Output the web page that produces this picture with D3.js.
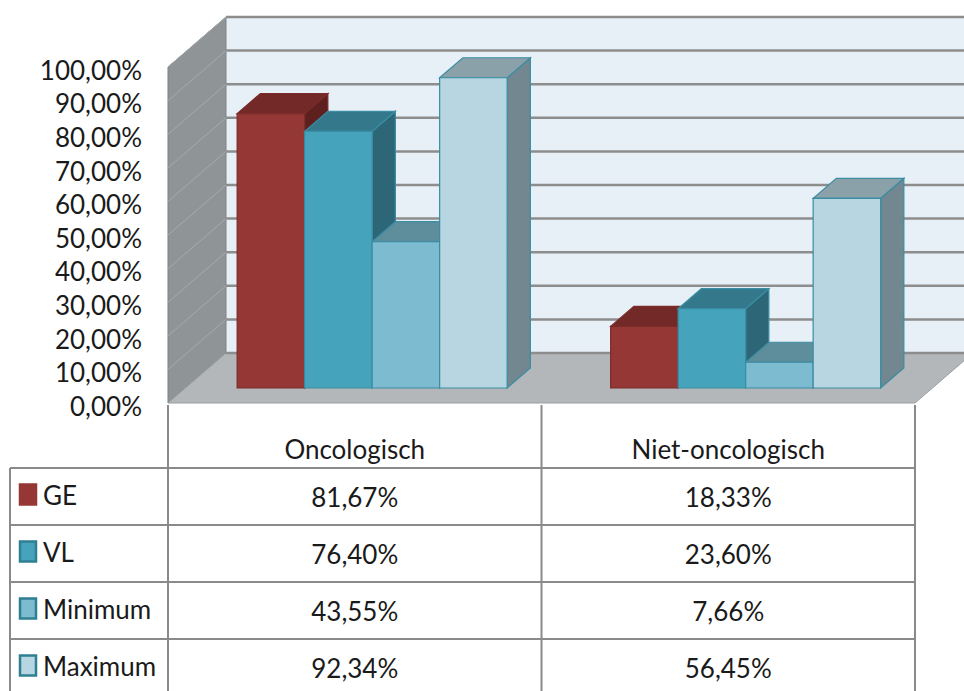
<!DOCTYPE html>
<html>
<head>
<meta charset="utf-8">
<script src="https://cdn.jsdelivr.net/npm/d3@7"></script>
<style>
  body { margin: 0; background: #fff; }
  svg { display: block; font-family: Lato, "Open Sans", sans-serif; }
</style>
</head>
<body>
<svg id="chart" width="964" height="691"></svg>
<script>
// data
const categories = ["Oncologisch", "Niet-oncologisch"];
const series = ["GE", "VL", "Minimum", "Maximum"];
const valuesGE = [0.8167, 0.1833];
const valuesVL = [0.7640, 0.2360];
const valuesMin = [0.4355, 0.0766];
const valuesMax = [0.9234, 0.5645];
const tickValues = [0, 0.1, 0.2, 0.3, 0.4, 0.5, 0.6, 0.7, 0.8, 0.9, 1.0];

const seriesValues = [valuesGE, valuesVL, valuesMin, valuesMax];

const colors = {
    GE: { front: "#953735", top: "#722927", side: "#5e201f", stroke: "#7a2b2a", key: "#953735", keyStroke: "#953735" },
    VL: { front: "#46a3bc", top: "#34788b", side: "#2d6676", stroke: "#3a8da2", key: "#46a3bc", keyStroke: "#2f7f93" },
    Minimum: { front: "#7dbbd0", top: "#5e8e9c", side: "#4f7885", stroke: "#3a8da2", key: "#7dbbd0", keyStroke: "#2f7f93" },
    Maximum: { front: "#b8d6e1", top: "#8ba1aa", side: "#728790", stroke: "#3a8da2", key: "#b8d6e1", keyStroke: "#2f7f93" }
};

const nl = d3.formatLocale({ decimal: ",", thousands: ".", grouping: [3], currency: ["", " €"] });
const fmt = nl.format(".2%");

const svg = d3.select("#chart");

// 3d layout
const plotLeft = 168, plotRight = 915;
const depthX = 58, depthY = 50;

const y = d3.scaleLinear().domain([0, 1]).range([403, 67]);
const x = d3.scaleBand().domain(categories).range([plotLeft, plotRight]);
const xs = d3.scaleBand().domain(series).range([-135, 135]);

function p(px, v, d) {
    return [px + d * depthX, y(v) - d * depthY];
}
function poly(pts) {
    return pts.map(q => q.join(",")).join(" ");
}

// walls
svg.append("polygon")
    .attr("points", poly([p(plotLeft, 0, 1), p(plotLeft, 1, 1), p(plotRight + 60, 1, 1), p(plotRight + 60, 0, 1)]))
    .attr("fill", "#e8f0f7");

svg.append("polygon")
    .attr("points", poly([p(plotLeft, 0, 0), p(plotLeft, 1, 0), p(plotLeft, 1, 1), p(plotLeft, 0, 1)]))
    .attr("fill", "#8f9597")
    .attr("stroke", "#7d8385")
    .attr("stroke-width", 1);

svg.append("polygon")
    .attr("points", poly([p(plotLeft, 0, 0), p(plotRight, 0, 0), p(plotRight, 0, 1), p(plotLeft, 0, 1)]))
    .attr("fill", "#b3b7ba")
    .attr("stroke", "#9a9ea1")
    .attr("stroke-width", 1);

// gridlines
svg.append("g").selectAll("line")
    .data(tickValues.filter(v => v > 0))
    .join("line")
    .attr("x1", v => p(plotLeft, v, 0)[0])
    .attr("y1", v => p(plotLeft, v, 0)[1])
    .attr("x2", v => p(plotLeft, v, 1)[0])
    .attr("y2", v => p(plotLeft, v, 1)[1])
    .attr("stroke", "#a6aaac")
    .attr("stroke-width", 1);

svg.append("g").selectAll("line")
    .data(tickValues)
    .join("line")
    .attr("x1", v => p(plotLeft, v, 1)[0])
    .attr("y1", v => p(plotLeft, v, 1)[1])
    .attr("x2", 964)
    .attr("y2", v => p(plotLeft, v, 1)[1])
    .attr("stroke", "#8d8d8d")
    .attr("stroke-width", 2.5);

// bars
const bars = [];
categories.forEach((c, ci) => {
    series.forEach((s, si) => {
        bars.push({ cat: c, s: s, v: seriesValues[si][ci] });
    });
});

const d0 = 0.3, d1 = 0.7;
const barG = svg.append("g");
bars.forEach(b => {
    const x0 = x(b.cat) + x.bandwidth() / 2 + xs(b.s);
    const x1 = x0 + xs.bandwidth();
    const col = colors[b.s];
    const g = barG.append("g");
    g.append("polygon")
        .attr("points", poly([p(x1, 0, d0), p(x1, b.v, d0), p(x1, b.v, d1), p(x1, 0, d1)]))
        .attr("fill", col.side).attr("stroke", col.stroke).attr("stroke-width", 1.2);
    g.append("polygon")
        .attr("points", poly([p(x0, b.v, d0), p(x1, b.v, d0), p(x1, b.v, d1), p(x0, b.v, d1)]))
        .attr("fill", col.top).attr("stroke", col.stroke).attr("stroke-width", 1.2);
    g.append("polygon")
        .attr("points", poly([p(x0, 0, d0), p(x0, b.v, d0), p(x1, b.v, d0), p(x1, 0, d0)]))
        .attr("fill", col.front).attr("stroke", col.stroke).attr("stroke-width", 1.2);
});

// y axis
const axis = d3.axisLeft(y).tickValues(tickValues).tickFormat(nl.format(".2%")).tickSize(0).tickPadding(0);
const ax = svg.append("g")
    .attr("transform", "translate(142,4)")
    .call(axis);
ax.select(".domain").remove();
ax.selectAll("text")
    .attr("font-size", 26)
    .attr("font-family", "Lato, sans-serif")
    .attr("fill", "#1a1a1a");

// data table
const tableTop = 405, headerBottom = 468;
const rows = d3.scaleBand().domain(series).range([headerBottom, headerBottom + 4 * 57]);
const tableLeft = 10;
const lineColor = "#8a8a8a";

const t = svg.append("g");
// horizontal lines
t.selectAll("line.h")
    .data(series)
    .join("line")
    .attr("class", "h")
    .attr("x1", tableLeft).attr("x2", plotRight)
    .attr("y1", s => rows(s)).attr("y2", s => rows(s))
    .attr("stroke", lineColor).attr("stroke-width", 2);
// vertical lines
t.append("line")
    .attr("x1", tableLeft).attr("x2", tableLeft)
    .attr("y1", headerBottom).attr("y2", 691)
    .attr("stroke", lineColor).attr("stroke-width", 2);
t.selectAll("line.v")
    .data([plotLeft, x(categories[1]), plotRight])
    .join("line")
    .attr("class", "v")
    .attr("x1", d => d).attr("x2", d => d)
    .attr("y1", tableTop).attr("y2", 691)
    .attr("stroke", lineColor).attr("stroke-width", 2);

// header
t.selectAll("text.cat")
    .data(categories)
    .join("text")
    .attr("class", "cat")
    .attr("x", c => x(c) + x.bandwidth() / 2)
    .attr("y", 459)
    .attr("text-anchor", "middle")
    .attr("font-size", 26)
    .attr("fill", "#1a1a1a")
    .text(c => c);

// legend keys and labels
series.forEach((s, si) => {
    const ry = rows(s);
    const mid = ry + rows.bandwidth() / 2;
    t.append("rect")
        .attr("x", 20).attr("y", mid - 12)
        .attr("width", 16).attr("height", 20)
        .attr("fill", colors[s].key)
        .attr("stroke", colors[s].keyStroke)
        .attr("stroke-width", 2.5);
    t.append("text")
        .attr("x", 43).attr("y", mid + 8)
        .attr("font-size", 26)
        .attr("fill", "#1a1a1a")
        .text(s);
    categories.forEach((c, ci) => {
        t.append("text")
            .attr("x", x(c) + x.bandwidth() / 2)
            .attr("y", mid + 10)
            .attr("text-anchor", "middle")
            .attr("font-size", 26)
            .attr("fill", "#1a1a1a")
            .text(fmt(seriesValues[si][ci]));
    });
});
</script>
</body>
</html>
